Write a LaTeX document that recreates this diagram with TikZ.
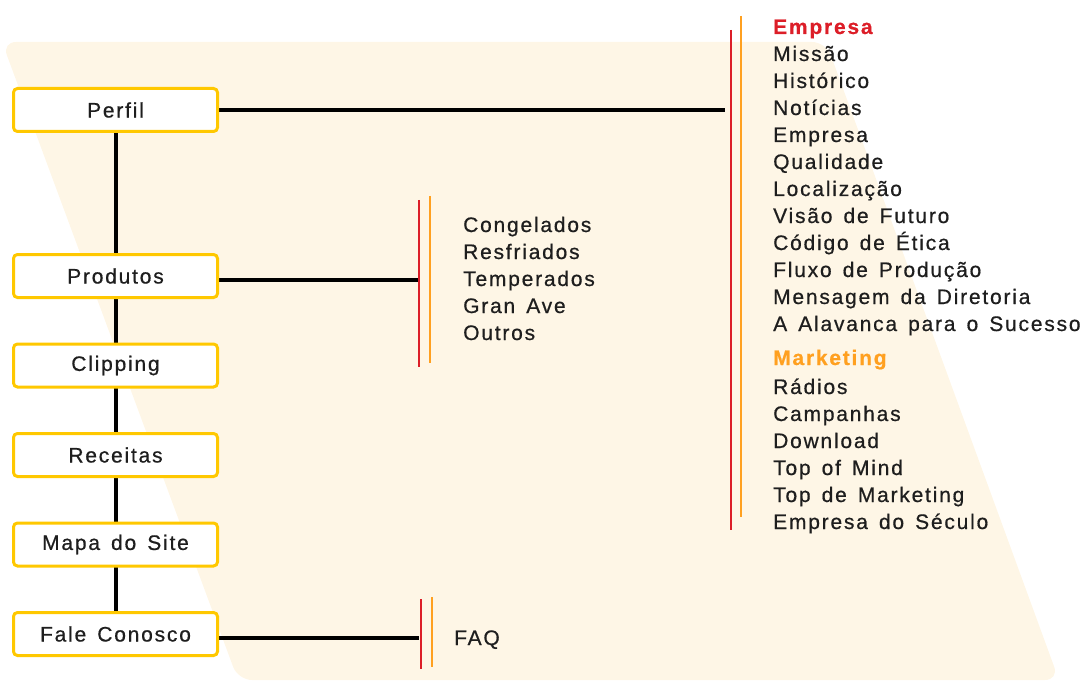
\documentclass[tikz,border=0pt]{standalone}
\usepackage{fontspec}
\setmainfont{Liberation Sans}[LetterSpace=8.5,WordSpace=1.45,FakeBold=0.6]
\usetikzlibrary{backgrounds}
\definecolor{beige}{HTML}{FEF6E6}
\definecolor{boxyellow}{HTML}{FFC800}
\definecolor{barred}{HTML}{DC1E28}
\definecolor{barorange}{HTML}{FFA020}
\definecolor{txt}{HTML}{1E1E1E}
\tikzset{
  menubox/.style={draw=boxyellow, line width=3pt, fill=white, rounded corners=4pt,
    minimum width=204pt, minimum height=43pt, inner sep=0pt,
    font=\fontsize{21}{21}\selectfont, text=txt},
  item/.style={anchor=base west, inner sep=0pt, font=\fontsize{21}{21}\selectfont, text=txt},
  head/.style={item, font=\fontsize{21}{21}\selectfont\bfseries},
  conn/.style={line width=4pt, black},
  redbar/.style={line width=2.4pt, barred},
  orangebar/.style={line width=2.4pt, barorange}
}
\begin{document}
\begin{tikzpicture}[x=1pt,y=-1pt]
\useasboundingbox (0,0) rectangle (1085,682);
% boxes
\node[menubox] (perfil)   at (115.5,110)   {Perfil};
\node[menubox] (produtos) at (115.5,276)   {Produtos};
\node[menubox] (clipping) at (115.5,365.5) {Clipping};
\node[menubox] (receitas) at (115.5,455)   {Receitas};
\node[menubox] (mapa)     at (115.5,544.5) {Mapa do Site};
\node[menubox] (fale)     at (115.5,634)   {Fale Conosco};
% bar end points
\coordinate (pbar) at (725,110);
\coordinate (prbar) at (419,280);
\coordinate (fbar) at (419,638);
\begin{scope}[on background layer]
  \fill[beige, rounded corners=14pt] (2,42) -- (826,42) -- (1059,680) -- (238,680) -- cycle;
  \draw[conn] (perfil.south) -- (fale.north);
  \draw[conn] (perfil.east) -- (pbar);
  \draw[conn] ([yshift=-4pt]produtos.east) -- (prbar);
  \draw[conn] ([yshift=-4pt]fale.east) -- (fbar);
\end{scope}
% bars
\draw[redbar] (731,30) -- (731,530);
\draw[orangebar] (741,16) -- (741,517);
\draw[redbar] (419,200) -- (419,367);
\draw[orangebar] (430,196) -- (430,363);
\draw[redbar] (421,599) -- (421,669);
\draw[orangebar] (432,597) -- (432,667);
% produtos list
\node[item] (congelados) at (463,232) {Congelados};
\node[item] (resfriados) at (463,259) {Resfriados};
\node[item] (temperados) at (463,286) {Temperados};
\node[item] (granave)    at (463,313) {Gran Ave};
\node[item] (outros)     at (463,340) {Outros};
% faq
\node[item] (faq) at (454,645) {FAQ};
% perfil list
\node[head, text=barred] (hempresa) at (773,34) {Empresa};
\node[item] (missao)     at (773,61)  {Missão};
\node[item] (historico)  at (773,88)  {Histórico};
\node[item] (noticias)   at (773,115) {Notícias};
\node[item] (empresa)    at (773,142) {Empresa};
\node[item] (qualidade)  at (773,169) {Qualidade};
\node[item] (localiz)    at (773,196) {Localização};
\node[item] (visao)      at (773,223) {Visão de Futuro};
\node[item] (codigo)     at (773,250) {Código de Ética};
\node[item] (fluxo)      at (773,277) {Fluxo de Produção};
\node[item] (mensagem)   at (773,304) {Mensagem da Diretoria};
\node[item] (alavanca)   at (773,331) {A Alavanca para o Sucesso};
\node[head, text=barorange] (hmarketing) at (773,365) {Marketing};
\node[item] (radios)     at (773,394) {Rádios};
\node[item] (campanhas)  at (773,421) {Campanhas};
\node[item] (download)   at (773,448) {Download};
\node[item] (topmind)    at (773,475) {Top of Mind};
\node[item] (topmkt)     at (773,502) {Top de Marketing};
\node[item] (seculo)     at (773,529) {Empresa do Século};
\end{tikzpicture}
\end{document}
